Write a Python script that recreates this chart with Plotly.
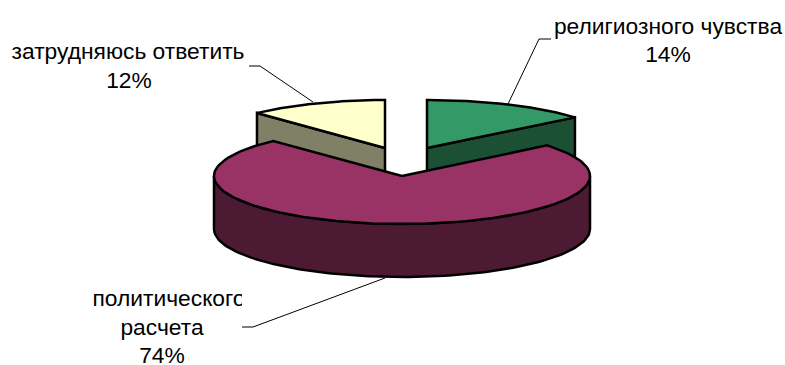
import numpy as np
import plotly.graph_objects as go

# доли ответов, по часовой стрелке от 12 часов
categories = ["религиозного чувства", "политического расчета", "затрудняюсь ответить"]
values = [14, 74, 12]
top_colors = ["#339966", "#993366", "#FFFFCC"]
side_colors = ["#1C5035", "#4C1A33", "#808066"]

# положение центра и радиус каждого сектора (в пикселях картинки)
centers_x = [427, 402, 385]
centers_y = [148, 176, 148]
radii_x = [192, 188, 187]
radius_y = 48
depth = 53

# подписи
label_lines = [
    ["религиозного чувства", "14%"],
    ["политического", "расчета", "74%"],
    ["затрудняюсь ответить", "12%"],
]
label_x = [[668, 668], [169, 162, 162], [128, 129]]
label_y = [[28, 56], [300, 329, 357], [53, 82]]
leader_x = [[551, 539, 508], [242, 253, 385], [249, 260, 313]]
leader_y = [[39, 39, 104], [327, 327, 278], [66, 66, 102]]

fig = go.Figure()


def poly(xs, ys, color):
    fig.add_trace(go.Scatter(x=xs, y=ys, mode="lines", fill="toself", fillcolor=color,
                             line=dict(color="black", width=2.5), hoverinfo="skip"))


def arc(cx, cy, rx, a0, a1):
    t = np.radians(np.linspace(a0, a1, 120))
    return cx + rx * np.sin(t), cy - radius_y * np.cos(t)


for lx, ly in zip(leader_x, leader_y):
    fig.add_trace(go.Scatter(x=lx, y=ly, mode="lines", line=dict(color="black", width=1), hoverinfo="skip"))

ends = np.cumsum(values) * 3.6
starts = np.r_[0, ends[:-1]]

# большой сектор рисуем последним, он ближе всех
for i in [0, 2, 1]:
    start, end = starts[i], ends[i]
    cx, cy, rx = centers_x[i], centers_y[i], radii_x[i]
    ax, ay = arc(cx, cy, rx, start, end)

    # внутренние грани сектора
    if np.sin(np.radians(end)) > 1e-6:
        poly([cx, ax[-1], ax[-1], cx, cx], [cy, ay[-1], ay[-1] + depth, cy + depth, cy], side_colors[i])
    if np.sin(np.radians(start)) < -1e-6:
        poly([cx, ax[0], ax[0], cx, cx], [cy, ay[0], ay[0] + depth, cy + depth, cy], side_colors[i])

    # внешняя стенка
    w0, w1 = max(start, 90), min(end, 270)
    if w1 > w0:
        wx, wy = arc(cx, cy, rx, w0, w1)
        poly(np.r_[wx, wx[::-1], wx[0]], np.r_[wy, wy[::-1] + depth, wy[0]], side_colors[i])

    # верх сектора
    poly(np.r_[cx, ax, cx], np.r_[cy, ay, cy], top_colors[i])

for i, lines in enumerate(label_lines):
    fig.add_trace(go.Scatter(x=label_x[i], y=label_y[i], text=lines, mode="text",
                             textposition="middle center",
                             textfont=dict(family="Liberation Sans", size=22.8, color="black"),
                             hoverinfo="skip"))

fig.update_layout(
    width=785, height=365, margin=dict(l=0, r=0, t=0, b=0),
    paper_bgcolor="white", plot_bgcolor="white", showlegend=False,
    xaxis=dict(range=[0, 785], visible=False, fixedrange=True),
    yaxis=dict(range=[365, 0], visible=False, fixedrange=True),
    # подпись в оригинале обрезана справа
    shapes=[dict(type="rect", xref="x", yref="y", x0=242, x1=262, y0=288, y1=312,
                 fillcolor="white", line=dict(width=0), layer="above")],
)

fig.write_html("out.html", config=dict(displayModeBar=False),
               post_script="document.body.style.margin='0';document.body.style.overflow='hidden';")
